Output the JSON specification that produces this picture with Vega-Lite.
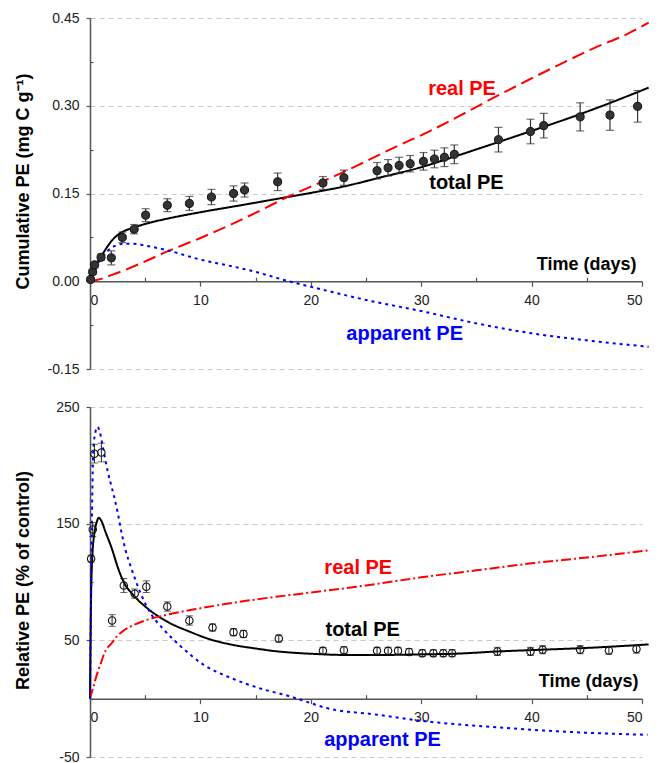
{
  "$schema": "https://vega.github.io/schema/vega-lite/v6.json",
  "padding": {"left": 14, "top": 11, "right": 5, "bottom": 5},
  "spacing": 24,
  "config": {
    "view": {"stroke": null},
    "font": "Liberation Sans",
    "axis": {
      "labelFont": "Liberation Sans", "titleFont": "Liberation Sans",
      "labelFontSize": 14, "labelColor": "#222222",
      "titleFontSize": 18, "titleFontWeight": "bold", "titleColor": "#000000",
      "domainColor": "#555555", "domainWidth": 1.5, "tickColor": "#555555", "tickWidth": 1.2,
      "gridColor": "#c8c8c8", "gridDash": [5, 4]
    }
  },
  "resolve": {"scale": {"color": "independent", "strokeDash": "independent"}},
  "datasets": {
    "top_points": [
      {"t": 0.05, "v": 0.003, "lo": 0.0, "hi": 0.006},
      {"t": 0.24, "v": 0.016, "lo": 0.012, "hi": 0.020},
      {"t": 0.42, "v": 0.028, "lo": 0.023, "hi": 0.033},
      {"t": 1.0, "v": 0.041, "lo": 0.036, "hi": 0.046},
      {"t": 1.93, "v": 0.040, "lo": 0.028, "hi": 0.052},
      {"t": 2.93, "v": 0.075, "lo": 0.066, "hi": 0.084},
      {"t": 4.0, "v": 0.089, "lo": 0.081, "hi": 0.097},
      {"t": 5.04, "v": 0.113, "lo": 0.102, "hi": 0.124},
      {"t": 7.0, "v": 0.130, "lo": 0.119, "hi": 0.141},
      {"t": 9.0, "v": 0.133, "lo": 0.121, "hi": 0.145},
      {"t": 11.0, "v": 0.144, "lo": 0.131, "hi": 0.157},
      {"t": 13.0, "v": 0.150, "lo": 0.137, "hi": 0.163},
      {"t": 14.0, "v": 0.156, "lo": 0.144, "hi": 0.168},
      {"t": 17.0, "v": 0.170, "lo": 0.155, "hi": 0.185},
      {"t": 21.1, "v": 0.168, "lo": 0.157, "hi": 0.179},
      {"t": 23.0, "v": 0.177, "lo": 0.164, "hi": 0.190},
      {"t": 26.0, "v": 0.189, "lo": 0.175, "hi": 0.203},
      {"t": 27.0, "v": 0.194, "lo": 0.180, "hi": 0.208},
      {"t": 28.0, "v": 0.198, "lo": 0.184, "hi": 0.212},
      {"t": 29.0, "v": 0.201, "lo": 0.187, "hi": 0.215},
      {"t": 30.2, "v": 0.205, "lo": 0.190, "hi": 0.220},
      {"t": 31.2, "v": 0.209, "lo": 0.194, "hi": 0.224},
      {"t": 32.1, "v": 0.212, "lo": 0.196, "hi": 0.228},
      {"t": 33.0, "v": 0.217, "lo": 0.201, "hi": 0.233},
      {"t": 37.0, "v": 0.242, "lo": 0.221, "hi": 0.263},
      {"t": 39.9, "v": 0.256, "lo": 0.235, "hi": 0.277},
      {"t": 41.1, "v": 0.266, "lo": 0.245, "hi": 0.287},
      {"t": 44.4, "v": 0.281, "lo": 0.257, "hi": 0.305},
      {"t": 47.1, "v": 0.284, "lo": 0.258, "hi": 0.310},
      {"t": 49.6, "v": 0.299, "lo": 0.272, "hi": 0.326}
    ],
    "top_lines": [
      {"series": "total", "t": 0, "v": 0}, {"series": "total", "t": 0.25, "v": 0.014}, {"series": "total", "t": 0.5, "v": 0.026},
      {"series": "total", "t": 1, "v": 0.042}, {"series": "total", "t": 1.5, "v": 0.057}, {"series": "total", "t": 2, "v": 0.070},
      {"series": "total", "t": 2.5, "v": 0.079}, {"series": "total", "t": 3, "v": 0.085}, {"series": "total", "t": 4, "v": 0.092},
      {"series": "total", "t": 5, "v": 0.098}, {"series": "total", "t": 7, "v": 0.107}, {"series": "total", "t": 10, "v": 0.118},
      {"series": "total", "t": 14, "v": 0.131}, {"series": "total", "t": 17, "v": 0.141}, {"series": "total", "t": 20, "v": 0.151},
      {"series": "total", "t": 23, "v": 0.162}, {"series": "total", "t": 26, "v": 0.176}, {"series": "total", "t": 30, "v": 0.195},
      {"series": "total", "t": 33, "v": 0.213}, {"series": "total", "t": 37, "v": 0.238}, {"series": "total", "t": 40, "v": 0.257},
      {"series": "total", "t": 44, "v": 0.283}, {"series": "total", "t": 47, "v": 0.304}, {"series": "total", "t": 50.6, "v": 0.331},
      {"series": "real", "t": 0, "v": 0}, {"series": "real", "t": 1, "v": 0.004}, {"series": "real", "t": 2, "v": 0.011},
      {"series": "real", "t": 3, "v": 0.018}, {"series": "real", "t": 5, "v": 0.034}, {"series": "real", "t": 7, "v": 0.051},
      {"series": "real", "t": 10, "v": 0.074}, {"series": "real", "t": 13, "v": 0.099}, {"series": "real", "t": 15, "v": 0.117},
      {"series": "real", "t": 18, "v": 0.145}, {"series": "real", "t": 21, "v": 0.170}, {"series": "real", "t": 24, "v": 0.196},
      {"series": "real", "t": 27.6, "v": 0.229}, {"series": "real", "t": 30.6, "v": 0.255}, {"series": "real", "t": 33.6, "v": 0.284},
      {"series": "real", "t": 36.7, "v": 0.315}, {"series": "real", "t": 39.7, "v": 0.344}, {"series": "real", "t": 42.7, "v": 0.372},
      {"series": "real", "t": 45.7, "v": 0.399}, {"series": "real", "t": 48.7, "v": 0.423}, {"series": "real", "t": 50.6, "v": 0.442},
      {"series": "apparent", "t": 0, "v": 0}, {"series": "apparent", "t": 0.5, "v": 0.022}, {"series": "apparent", "t": 1, "v": 0.038},
      {"series": "apparent", "t": 1.5, "v": 0.050}, {"series": "apparent", "t": 2, "v": 0.058}, {"series": "apparent", "t": 2.5, "v": 0.062},
      {"series": "apparent", "t": 3, "v": 0.064}, {"series": "apparent", "t": 4, "v": 0.064}, {"series": "apparent", "t": 5, "v": 0.061},
      {"series": "apparent", "t": 7, "v": 0.053}, {"series": "apparent", "t": 10, "v": 0.037}, {"series": "apparent", "t": 13, "v": 0.025},
      {"series": "apparent", "t": 15, "v": 0.016}, {"series": "apparent", "t": 18, "v": 0.0}, {"series": "apparent", "t": 21, "v": -0.014},
      {"series": "apparent", "t": 25, "v": -0.032}, {"series": "apparent", "t": 30, "v": -0.051}, {"series": "apparent", "t": 35, "v": -0.072},
      {"series": "apparent", "t": 40, "v": -0.089}, {"series": "apparent", "t": 45, "v": -0.101}, {"series": "apparent", "t": 50.6, "v": -0.112}
    ],
    "top_text": [
      {"series": "real", "t": 33.7, "v": 0.328, "label": "real PE"},
      {"series": "total", "t": 34.1, "v": 0.1675, "label": "total PE"},
      {"series": "apparent", "t": 28.5, "v": -0.0895, "label": "apparent PE"}
    ],
    "bot_points": [
      {"t": 0.1, "v": 120, "lo": 117, "hi": 123},
      {"t": 0.25, "v": 145, "lo": 139, "hi": 151},
      {"t": 0.4, "v": 210, "lo": 202, "hi": 218},
      {"t": 1.03, "v": 211, "lo": 203, "hi": 219},
      {"t": 2.0, "v": 67, "lo": 62, "hi": 72},
      {"t": 3.06, "v": 97, "lo": 91, "hi": 103},
      {"t": 4.05, "v": 90, "lo": 86, "hi": 94},
      {"t": 5.1, "v": 96, "lo": 91, "hi": 101},
      {"t": 7.0, "v": 79, "lo": 75, "hi": 83},
      {"t": 9.0, "v": 67, "lo": 63, "hi": 71},
      {"t": 11.1, "v": 61, "lo": 58, "hi": 64},
      {"t": 13.0, "v": 57, "lo": 54, "hi": 60},
      {"t": 13.9, "v": 55.5, "lo": 52.5, "hi": 58.5},
      {"t": 17.1, "v": 51.5, "lo": 48.5, "hi": 54.5},
      {"t": 21.1, "v": 41, "lo": 38, "hi": 44},
      {"t": 23.0, "v": 41.5, "lo": 38.5, "hi": 44.5},
      {"t": 26.0, "v": 41, "lo": 38, "hi": 44},
      {"t": 27.0, "v": 41, "lo": 38, "hi": 44},
      {"t": 27.9, "v": 41, "lo": 38, "hi": 44},
      {"t": 28.9, "v": 40, "lo": 37, "hi": 43},
      {"t": 30.1, "v": 39, "lo": 36, "hi": 42},
      {"t": 31.1, "v": 39, "lo": 36, "hi": 42},
      {"t": 32.0, "v": 39, "lo": 36, "hi": 42},
      {"t": 32.8, "v": 39, "lo": 36, "hi": 42},
      {"t": 36.9, "v": 40.5, "lo": 37, "hi": 44},
      {"t": 39.9, "v": 40.5, "lo": 37, "hi": 44},
      {"t": 41.0, "v": 42, "lo": 38.5, "hi": 45.5},
      {"t": 44.4, "v": 42, "lo": 38.5, "hi": 45.5},
      {"t": 47.0, "v": 41.3, "lo": 38, "hi": 44.5},
      {"t": 49.5, "v": 42.5, "lo": 39, "hi": 46}
    ],
    "bot_lines": [
      {"series": "total", "t": 0, "v": 0}, {"series": "total", "t": 0.05, "v": 50}, {"series": "total", "t": 0.1, "v": 90},
      {"series": "total", "t": 0.2, "v": 120}, {"series": "total", "t": 0.4, "v": 142}, {"series": "total", "t": 0.6, "v": 151},
      {"series": "total", "t": 0.8, "v": 155}, {"series": "total", "t": 1.0, "v": 153}, {"series": "total", "t": 1.4, "v": 143},
      {"series": "total", "t": 2, "v": 128}, {"series": "total", "t": 2.5, "v": 113}, {"series": "total", "t": 3, "v": 101},
      {"series": "total", "t": 4, "v": 88}, {"series": "total", "t": 5, "v": 79}, {"series": "total", "t": 7, "v": 66},
      {"series": "total", "t": 9, "v": 57.5}, {"series": "total", "t": 11, "v": 50.5}, {"series": "total", "t": 13, "v": 46},
      {"series": "total", "t": 15, "v": 43}, {"series": "total", "t": 17, "v": 40.5}, {"series": "total", "t": 20, "v": 38.5},
      {"series": "total", "t": 23, "v": 37.5}, {"series": "total", "t": 27, "v": 37.5}, {"series": "total", "t": 30, "v": 38},
      {"series": "total", "t": 33, "v": 38.5}, {"series": "total", "t": 37, "v": 40.5}, {"series": "total", "t": 41, "v": 42},
      {"series": "total", "t": 45, "v": 43.5}, {"series": "total", "t": 50.6, "v": 46.5},
      {"series": "real", "t": 0, "v": 0}, {"series": "real", "t": 0.3, "v": 10}, {"series": "real", "t": 0.7, "v": 23},
      {"series": "real", "t": 1, "v": 31}, {"series": "real", "t": 1.3, "v": 39}, {"series": "real", "t": 2, "v": 48},
      {"series": "real", "t": 2.5, "v": 54}, {"series": "real", "t": 3, "v": 58}, {"series": "real", "t": 3.7, "v": 62},
      {"series": "real", "t": 5, "v": 67}, {"series": "real", "t": 7, "v": 72}, {"series": "real", "t": 10, "v": 77.5},
      {"series": "real", "t": 15, "v": 85}, {"series": "real", "t": 20, "v": 91}, {"series": "real", "t": 25, "v": 97},
      {"series": "real", "t": 30, "v": 104}, {"series": "real", "t": 35, "v": 110}, {"series": "real", "t": 40, "v": 116},
      {"series": "real", "t": 45, "v": 121}, {"series": "real", "t": 50.5, "v": 127},
      {"series": "apparent", "t": 0, "v": 0}, {"series": "apparent", "t": 0.1, "v": 90}, {"series": "apparent", "t": 0.2, "v": 170},
      {"series": "apparent", "t": 0.3, "v": 212}, {"series": "apparent", "t": 0.5, "v": 229}, {"series": "apparent", "t": 0.7, "v": 233},
      {"series": "apparent", "t": 0.9, "v": 228}, {"series": "apparent", "t": 1.2, "v": 214}, {"series": "apparent", "t": 1.6, "v": 195},
      {"series": "apparent", "t": 2, "v": 180}, {"series": "apparent", "t": 2.5, "v": 160}, {"series": "apparent", "t": 2.8, "v": 145},
      {"series": "apparent", "t": 3.2, "v": 128}, {"series": "apparent", "t": 3.7, "v": 113}, {"series": "apparent", "t": 4.6, "v": 90},
      {"series": "apparent", "t": 5.5, "v": 73}, {"series": "apparent", "t": 6.7, "v": 59}, {"series": "apparent", "t": 8.2, "v": 45},
      {"series": "apparent", "t": 10.3, "v": 29}, {"series": "apparent", "t": 12.7, "v": 18}, {"series": "apparent", "t": 15.7, "v": 8},
      {"series": "apparent", "t": 18.1, "v": 2}, {"series": "apparent", "t": 19.9, "v": -3.5}, {"series": "apparent", "t": 21.4, "v": -8},
      {"series": "apparent", "t": 26, "v": -13.7}, {"series": "apparent", "t": 30.4, "v": -19.4}, {"series": "apparent", "t": 36.4, "v": -24.2},
      {"series": "apparent", "t": 42.4, "v": -28}, {"series": "apparent", "t": 50.5, "v": -31}
    ],
    "bot_text": [
      {"series": "real", "t": 24.3, "v": 112, "label": "real PE"},
      {"series": "total", "t": 24.7, "v": 59, "label": "total PE"},
      {"series": "apparent", "t": 26.5, "v": -35, "label": "apparent PE"}
    ]
  },
  "vconcat": [
    {
      "width": 552, "height": 351,
      "layer": [
        {
          "data": {"name": "top_lines"},
          "mark": {"type": "line", "strokeWidth": 2, "interpolate": "monotone", "clip": false},
          "encoding": {
            "x": {"field": "t", "type": "quantitative", "scale": {"domain": [0, 50], "nice": false, "zero": false},
              "axis": {"title": "Time (days)", "values": [0, 5, 10, 15, 20, 25, 30, 35, 40, 45, 50],
                "labelExpr": "datum.value % 10 === 0 ? datum.label : ''",
                "tickSize": {"condition": {"test": "datum.value % 10 === 0", "value": 5}, "value": -4},
                "labelPadding": 7, "offset": -87.75, "grid": false,
                "titleX": 546, "titleY": -17, "titleAlign": "right", "titleBaseline": "middle"}},
            "y": {"field": "v", "type": "quantitative", "scale": {"domain": [-0.15, 0.45], "nice": false, "zero": false},
              "axis": {"title": "Cumulative PE (mg C g⁻¹)",
                "values": [-0.15, -0.075, 0, 0.075, 0.15, 0.225, 0.3, 0.375, 0.45],
                "labelExpr": "abs(datum.value/0.15 - round(datum.value/0.15)) < 0.01 ? (datum.value < -0.001 ? '-' + format(-datum.value, '.2f') : format(abs(datum.value), '.2f')) : ''",
                "tickSize": {"condition": {"test": "abs(datum.value/0.15 - round(datum.value/0.15)) < 0.01", "value": 4}, "value": -3},
                "gridOpacity": {"condition": {"test": "abs(datum.value/0.15 - round(datum.value/0.15)) < 0.01 && abs(datum.value) > 0.001", "value": 1}, "value": 0},
                "labelPadding": 7, "titleX": -67, "titleY": 163, "titleBaseline": "middle"}},
            "color": {"field": "series", "type": "nominal", "legend": null,
              "scale": {"domain": ["total", "real", "apparent"], "range": ["#000000", "#ff0000", "#0000ff"]}},
            "strokeDash": {"field": "series", "type": "nominal", "legend": null,
              "scale": {"domain": ["total", "real", "apparent"], "range": [[1, 0], [13, 6], [3, 4]]}}
          }
        },
        {
          "data": {"name": "top_points"},
          "mark": {"type": "rule", "color": "#333333", "strokeWidth": 1.2},
          "encoding": {
            "x": {"field": "t", "type": "quantitative", "scale": {"domain": [0, 50], "nice": false, "zero": false}},
            "y": {"field": "lo", "type": "quantitative", "scale": {"domain": [-0.15, 0.45], "nice": false, "zero": false}},
            "y2": {"field": "hi"}
          }
        },
        {
          "data": {"name": "top_points"},
          "mark": {"type": "tick", "orient": "horizontal", "color": "#333333", "size": 8, "thickness": 1.2},
          "encoding": {
            "x": {"field": "t", "type": "quantitative", "scale": {"domain": [0, 50], "nice": false, "zero": false}},
            "y": {"field": "lo", "type": "quantitative", "scale": {"domain": [-0.15, 0.45], "nice": false, "zero": false}}
          }
        },
        {
          "data": {"name": "top_points"},
          "mark": {"type": "tick", "orient": "horizontal", "color": "#333333", "size": 8, "thickness": 1.2},
          "encoding": {
            "x": {"field": "t", "type": "quantitative", "scale": {"domain": [0, 50], "nice": false, "zero": false}},
            "y": {"field": "hi", "type": "quantitative", "scale": {"domain": [-0.15, 0.45], "nice": false, "zero": false}}
          }
        },
        {
          "data": {"name": "top_points"},
          "mark": {"type": "point", "shape": "circle", "filled": true, "fill": "#333333", "stroke": "#111111", "strokeWidth": 1, "size": 65, "opacity": 1},
          "encoding": {
            "x": {"field": "t", "type": "quantitative", "scale": {"domain": [0, 50], "nice": false, "zero": false}},
            "y": {"field": "v", "type": "quantitative", "scale": {"domain": [-0.15, 0.45], "nice": false, "zero": false}}
          }
        },
        {
          "data": {"name": "top_text"},
          "mark": {"type": "text", "fontSize": 20, "fontWeight": "bold", "font": "Liberation Sans", "align": "center", "baseline": "middle"},
          "encoding": {
            "x": {"field": "t", "type": "quantitative", "scale": {"domain": [0, 50], "nice": false, "zero": false}},
            "y": {"field": "v", "type": "quantitative", "scale": {"domain": [-0.15, 0.45], "nice": false, "zero": false}},
            "text": {"field": "label"},
            "color": {"field": "series", "type": "nominal", "legend": null,
              "scale": {"domain": ["total", "real", "apparent"], "range": ["#000000", "#ff0000", "#0000ff"]}}
          }
        }
      ]
    },
    {
      "width": 552, "height": 350,
      "layer": [
        {
          "data": {"name": "bot_lines"},
          "mark": {"type": "line", "strokeWidth": 2, "interpolate": "monotone", "clip": false},
          "encoding": {
            "x": {"field": "t", "type": "quantitative", "scale": {"domain": [0, 50], "nice": false, "zero": false},
              "axis": {"title": "Time (days)", "values": [0, 5, 10, 15, 20, 25, 30, 35, 40, 45, 50],
                "labelExpr": "datum.value % 10 === 0 ? datum.label : ''",
                "tickSize": {"condition": {"test": "datum.value % 10 === 0", "value": 5}, "value": -4},
                "labelPadding": 7, "offset": -58.33, "grid": false,
                "titleX": 548, "titleY": -17, "titleAlign": "right", "titleBaseline": "middle"}},
            "y": {"field": "v", "type": "quantitative", "scale": {"domain": [-50, 250], "nice": false, "zero": false},
              "axis": {"title": "Relative PE (% of control)",
                "values": [-50, 0, 50, 100, 150, 200, 250],
                "labelExpr": "(datum.value + 50) % 100 === 0 ? (datum.value < 0 ? '-' + format(-datum.value, 'd') : format(datum.value, 'd')) : ''",
                "tickSize": {"condition": {"test": "(datum.value + 50) % 100 === 0", "value": 4}, "value": -3},
                "gridOpacity": {"condition": {"test": "(datum.value + 50) % 100 === 0", "value": 1}, "value": 0},
                "labelPadding": 7, "titleX": -67, "titleY": 173, "titleBaseline": "middle"}},
            "color": {"field": "series", "type": "nominal", "legend": null,
              "scale": {"domain": ["total", "real", "apparent"], "range": ["#000000", "#ff0000", "#0000ff"]}},
            "strokeDash": {"field": "series", "type": "nominal", "legend": null,
              "scale": {"domain": ["total", "real", "apparent"], "range": [[1, 0], [10, 3, 2, 3], [3, 4]]}}
          }
        },
        {
          "data": {"name": "bot_points"},
          "mark": {"type": "rule", "color": "#222222", "strokeWidth": 1},
          "encoding": {
            "x": {"field": "t", "type": "quantitative", "scale": {"domain": [0, 50], "nice": false, "zero": false}},
            "y": {"field": "lo", "type": "quantitative", "scale": {"domain": [-50, 250], "nice": false, "zero": false}},
            "y2": {"field": "hi"}
          }
        },
        {
          "data": {"name": "bot_points"},
          "mark": {"type": "tick", "orient": "horizontal", "color": "#222222", "size": 7, "thickness": 1},
          "encoding": {
            "x": {"field": "t", "type": "quantitative", "scale": {"domain": [0, 50], "nice": false, "zero": false}},
            "y": {"field": "lo", "type": "quantitative", "scale": {"domain": [-50, 250], "nice": false, "zero": false}}
          }
        },
        {
          "data": {"name": "bot_points"},
          "mark": {"type": "tick", "orient": "horizontal", "color": "#222222", "size": 7, "thickness": 1},
          "encoding": {
            "x": {"field": "t", "type": "quantitative", "scale": {"domain": [0, 50], "nice": false, "zero": false}},
            "y": {"field": "hi", "type": "quantitative", "scale": {"domain": [-50, 250], "nice": false, "zero": false}}
          }
        },
        {
          "data": {"name": "bot_points"},
          "mark": {"type": "point", "shape": "circle", "filled": false, "stroke": "#111111", "strokeWidth": 1.1, "size": 55, "opacity": 1},
          "encoding": {
            "x": {"field": "t", "type": "quantitative", "scale": {"domain": [0, 50], "nice": false, "zero": false}},
            "y": {"field": "v", "type": "quantitative", "scale": {"domain": [-50, 250], "nice": false, "zero": false}}
          }
        },
        {
          "data": {"name": "bot_text"},
          "mark": {"type": "text", "fontSize": 20, "fontWeight": "bold", "font": "Liberation Sans", "align": "center", "baseline": "middle"},
          "encoding": {
            "x": {"field": "t", "type": "quantitative", "scale": {"domain": [0, 50], "nice": false, "zero": false}},
            "y": {"field": "v", "type": "quantitative", "scale": {"domain": [-50, 250], "nice": false, "zero": false}},
            "text": {"field": "label"},
            "color": {"field": "series", "type": "nominal", "legend": null,
              "scale": {"domain": ["total", "real", "apparent"], "range": ["#000000", "#ff0000", "#0000ff"]}}
          }
        }
      ]
    }
  ]
}
